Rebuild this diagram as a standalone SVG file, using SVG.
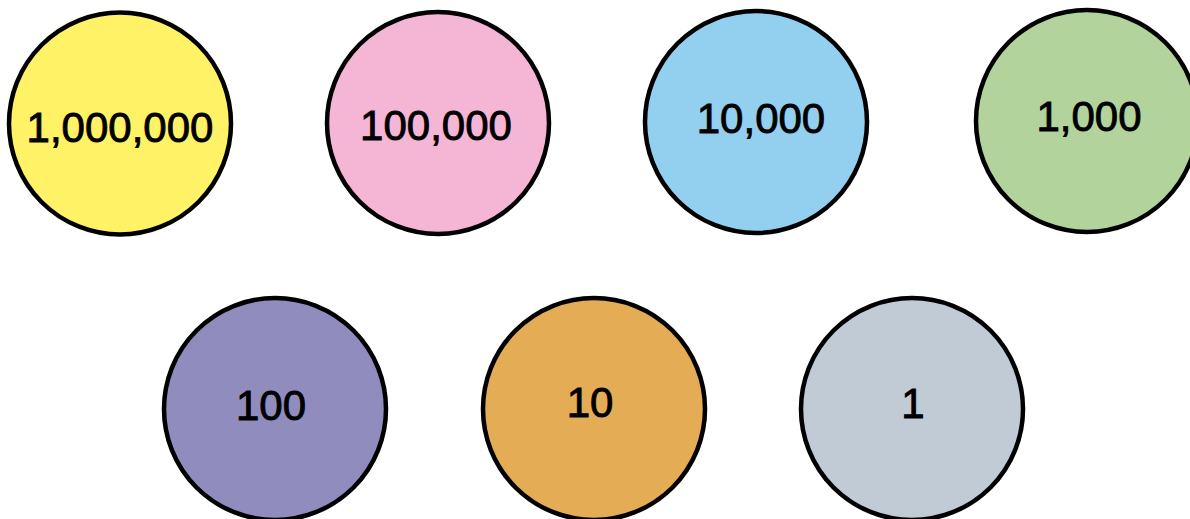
<svg xmlns="http://www.w3.org/2000/svg" width="1190" height="519" viewBox="0 0 1190 519">
<style>
.c{stroke:#000;stroke-width:4.5}
.t{font-family:"Liberation Sans",Arial,sans-serif;font-size:42px;fill:#000;stroke:#000;stroke-width:0.9;text-anchor:middle}
</style>
<rect width="1190" height="519" fill="#fff"/>
<g id="n1"><circle class="c" cx="120" cy="123.5" r="111" fill="#FFF266"/><text class="t" x="120" y="142">1,000,000</text></g>
<g id="n2"><circle class="c" cx="438" cy="123" r="111" fill="#F5B5D5"/><text class="t" x="436" y="140">100,000</text></g>
<g id="n3"><circle class="c" cx="756" cy="122" r="111" fill="#93CFEE"/><text class="t" x="761" y="133">10,000</text></g>
<g id="n4"><circle class="c" cx="1087" cy="121" r="111" fill="#B2D39B"/><text class="t" x="1089" y="131">1,000</text></g>
<g id="n5"><circle class="c" cx="275" cy="409" r="111" fill="#908CBE"/><text class="t" x="271" y="420">100</text></g>
<g id="n6"><circle class="c" cx="594" cy="409" r="111" fill="#E4AD55"/><text class="t" x="590" y="417">10</text></g>
<g id="n7"><circle class="c" cx="912" cy="409" r="111" fill="#C0CBD6"/><text class="t" x="913" y="418">1</text></g>
<g id="connectors"/>
</svg>
